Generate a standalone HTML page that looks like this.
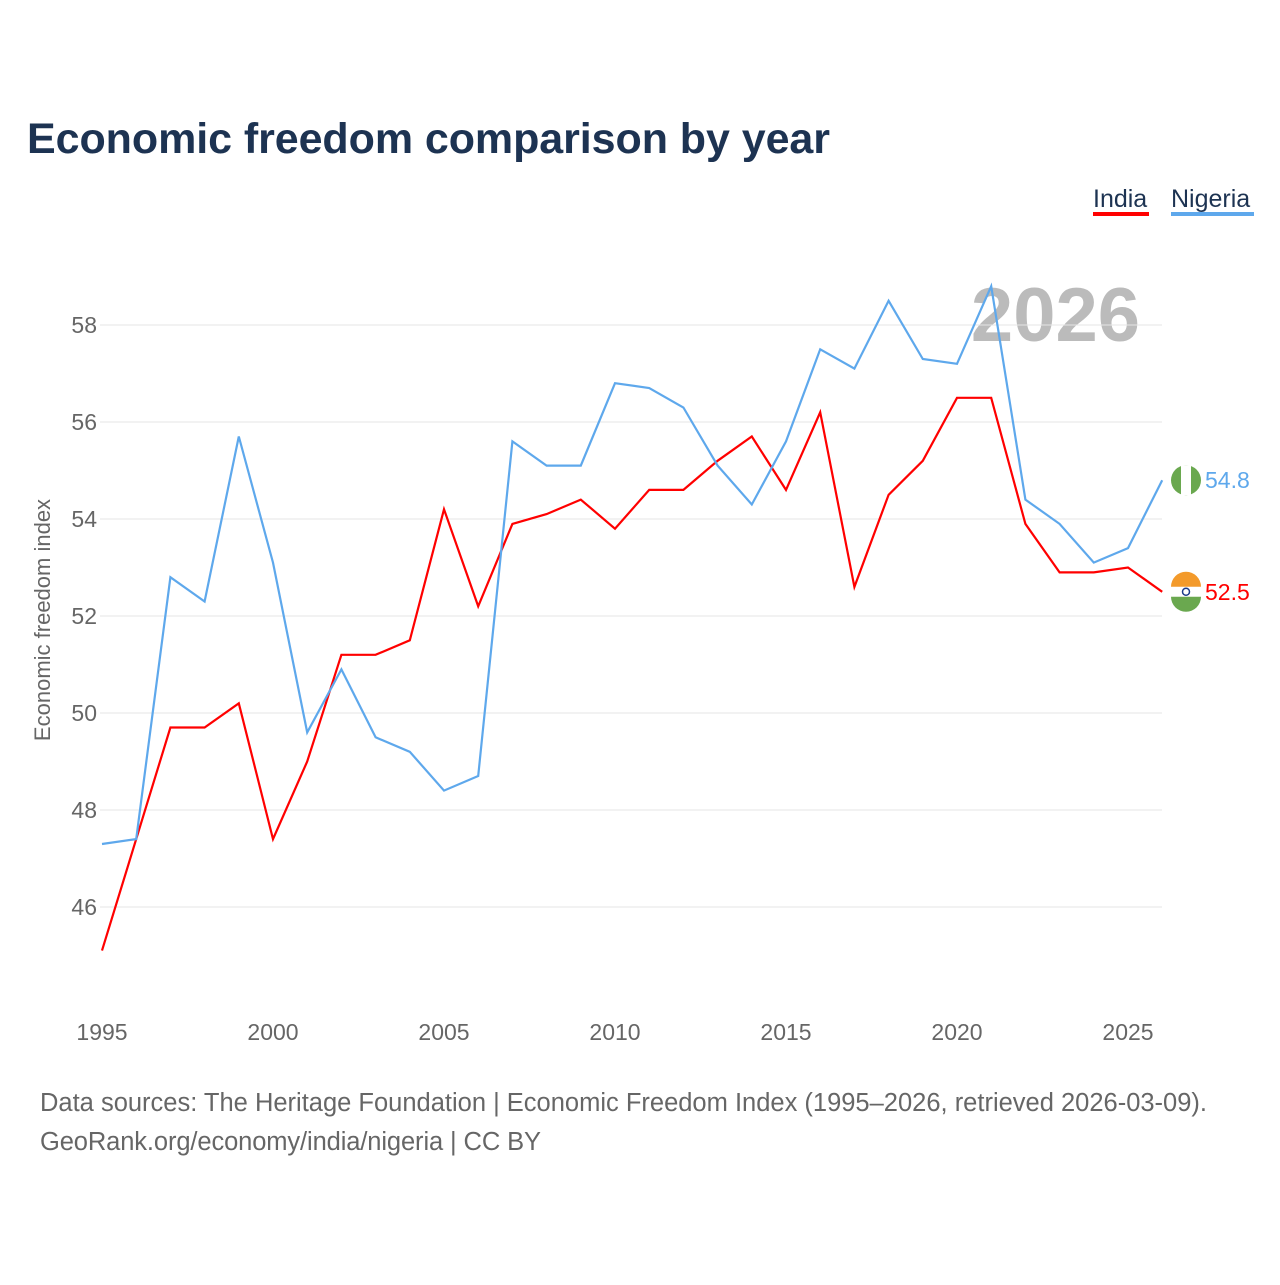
<!DOCTYPE html>
<html><head><meta charset="utf-8"><style>
body{margin:0;background:#fff;width:1280px;height:1280px;overflow:hidden;font-family:"Liberation Sans",sans-serif;}
</style></head><body>
<svg width="1280" height="1280" xmlns="http://www.w3.org/2000/svg">
<text x="27" y="153" font-size="43" font-weight="bold" fill="#1d3352" textLength="803">Economic freedom comparison by year</text>
<g>
<text x="1093" y="207" font-size="25" fill="#1d3352">India</text>
<rect x="1093" y="212" width="56" height="4" fill="#ff0000"/>
<text x="1171" y="207" font-size="25" fill="#1d3352">Nigeria</text>
<rect x="1171" y="212" width="83" height="4" fill="#5ea8ec"/>
</g>
<text x="1140" y="341" font-size="76" font-weight="bold" fill="#bbbbbb" text-anchor="end">2026</text>
<g id="grid"></g><g id="series"></g>
<text transform="translate(50,620) rotate(-90)" font-size="22" fill="#666" text-anchor="middle">Economic freedom index</text>
<text x="40" y="1111" font-size="25.5" fill="#666" textLength="1167">Data sources: The Heritage Foundation | Economic Freedom Index (1995–2026, retrieved 2026-03-09).</text>
<text x="40" y="1150" font-size="25.5" fill="#666" textLength="501">GeoRank.org/economy/india/nigeria | CC BY</text>
</svg>
<script>
const years=[1995,1996,1997,1998,1999,2000,2001,2002,2003,2004,2005,2006,2007,2008,2009,2010,2011,2012,2013,2014,2015,2016,2017,2018,2019,2020,2021,2022,2023,2024,2025,2026];
const india=[45.1,47.4,49.7,49.7,50.2,47.4,49.0,51.2,51.2,51.5,54.2,52.2,53.9,54.1,54.4,53.8,54.6,54.6,55.2,55.7,54.6,56.2,52.6,54.5,55.2,56.5,56.5,53.9,52.9,52.9,53.0,52.5];
const nigeria=[47.3,47.4,52.8,52.3,55.7,53.1,49.6,50.9,49.5,49.2,48.4,48.7,55.6,55.1,55.1,56.8,56.7,56.3,55.1,54.3,55.6,57.5,57.1,58.5,57.3,57.2,58.8,54.4,53.9,53.1,53.4,54.8];
const yTicks=[46,48,50,52,54,56,58];
const xTicks=[1995,2000,2005,2010,2015,2020,2025];
const NS="http://www.w3.org/2000/svg";
const X=y=>102+(y-1995)*34.2;
const Y=v=>325+(58-v)*48.5;
function mk(t,a,p){const e=document.createElementNS(NS,t);for(const k in a)e.setAttribute(k,a[k]);p.appendChild(e);return e;}
const g=document.getElementById('grid'),s=document.getElementById('series');
yTicks.forEach(v=>{
 const l=mk('line',{x1:100,x2:1162,y1:Y(v),y2:Y(v),stroke:'#e6e6e6','stroke-width':1},g);
 
 
 const t=mk('text',{x:97,y:Y(v)+8,'font-size':23,fill:'#666','text-anchor':'end'},g);t.textContent=v;
 
 
});
xTicks.forEach(v=>{
 const t=mk('text',{x:X(v),y:1040,'font-size':23,fill:'#666','text-anchor':'middle'},g);t.textContent=v;
 
 
});
function line(d,c,name){
 const p=mk('path',{d:d.map((v,i)=>(i?'L':'M')+X(years[i]).toFixed(1)+','+Y(v).toFixed(1)).join(''),fill:'none',stroke:c,'stroke-width':2.2},s);
 
 
 const last=d[d.length-1];
 const t=mk('text',{x:1205,y:Y(last)+8,'font-size':23,fill:c},s);t.textContent=last.toFixed(1);
 
 
}
line(india,'#ff0000','india');
line(nigeria,'#5ea8ec','nigeria');
const cx=1186;
let cy=Y(nigeria[nigeria.length-1]);
const nf=mk('g',{},s);


mk('circle',{cx:cx,cy:cy,r:15,fill:'#6aa84f'},nf);
mk('rect',{x:cx-5,y:cy-15,width:10,height:30,fill:'#fff'},nf);
cy=Y(india[india.length-1]);
const inf=mk('g',{},s);


mk('circle',{cx:cx,cy:cy,r:15,fill:'#fff'},inf);
mk('path',{d:`M${cx-15},${cy-5}A15,15 0 0 1 ${cx+15},${cy-5}Z`,fill:'#f39a2b'},inf);
mk('path',{d:`M${cx-15},${cy+5}A15,15 0 0 0 ${cx+15},${cy+5}Z`,fill:'#6aa84f'},inf);
mk('circle',{cx:cx,cy:cy,r:3.5,fill:'none',stroke:'#1a3a8a','stroke-width':1.5},inf);
</script>
</body></html>
